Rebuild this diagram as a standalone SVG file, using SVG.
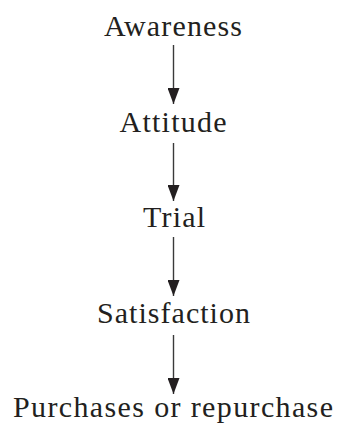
<svg xmlns="http://www.w3.org/2000/svg" width="339" height="425" viewBox="0 0 339 425">
<style>
.lbl{font-family:"Liberation Serif","Times New Roman",serif;font-size:30px;fill:#231f20;text-anchor:middle}
.edge{stroke:#3a3a3a;stroke-width:1.4;fill:none}
</style>
<defs>
<marker id="ahd" markerUnits="userSpaceOnUse" markerWidth="12" markerHeight="16" viewBox="0 0 12 16" refX="6" refY="16" orient="0">
<path d="M0,0 L12,0 L6,16 Z" fill="#231f20"/>
</marker>
</defs>
<rect width="339" height="425" fill="#ffffff"/>
<g id="connectors">
<line class="edge" x1="173.5" y1="45" x2="173.5" y2="104" marker-end="url(#ahd)"/>
<line class="edge" x1="173.5" y1="143" x2="173.5" y2="201" marker-end="url(#ahd)"/>
<line class="edge" x1="173.5" y1="237" x2="173.5" y2="296" marker-end="url(#ahd)"/>
<line class="edge" x1="173.5" y1="335" x2="173.5" y2="394" marker-end="url(#ahd)"/>
</g>
<g id="awareness"><text class="lbl" x="173" y="35.5" textLength="138" lengthAdjust="spacing">Awareness</text></g>
<g id="attitude"><text class="lbl" x="173" y="131.5" textLength="107" lengthAdjust="spacing">Attitude</text></g>
<g id="trial"><text class="lbl" x="174" y="227" textLength="62" lengthAdjust="spacing">Trial</text></g>
<g id="satisfaction"><text class="lbl" x="173.5" y="323" textLength="153" lengthAdjust="spacing">Satisfaction</text></g>
<g id="purchases"><text class="lbl" x="173" y="417" textLength="320" lengthAdjust="spacing">Purchases or repurchase</text></g>
</svg>
